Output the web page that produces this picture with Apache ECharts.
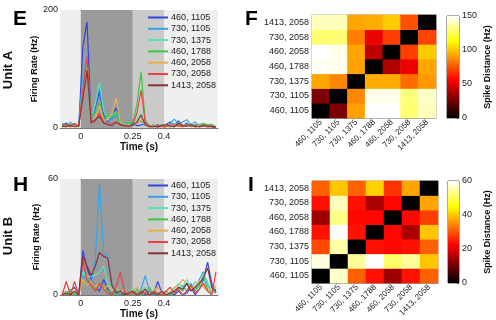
<!DOCTYPE html>
<html>
<head>
<meta charset="utf-8">
<script src="https://cdn.jsdelivr.net/npm/echarts@6/dist/echarts.min.js"></script>
<style>
  html, body { margin: 0; padding: 0; background: #fff; }
  #chart { width: 496px; height: 320px; }
</style>
</head>
<body>
<div id="chart"></div>
<script>
// stimulus pairs, in the order used for legend, rows and columns
const pairNames = ["460, 1105", "730, 1105", "730, 1375", "460, 1788", "460, 2058", "730, 2058", "1413, 2058"];
const lineColors = ["#3345dd", "#3aa3e6", "#55e3c3", "#3cc83c", "#e8b14f", "#ee4040", "#8a3434"];

// bin centres (s)
const timePoints = [-0.09, -0.07, -0.05, -0.03, -0.01, 0.01, 0.03, 0.05, 0.07, 0.09,
  0.11, 0.13, 0.15, 0.17, 0.19, 0.21, 0.23, 0.25, 0.27, 0.29,
  0.31, 0.33, 0.35, 0.37, 0.39, 0.41, 0.43, 0.45, 0.47, 0.49,
  0.51, 0.53, 0.55, 0.57, 0.59, 0.61, 0.63, 0.65];
const timeTicks = [0, 0.25, 0.4];

// Unit A firing rate (Hz)
const rateA_460_1105 = [5, 8, 3, 6, 2, 138, 180, 12, 35, 62, 22, 10, 18, 34, 10, 8, 6, 8, 4, 5, 8, 3, 5, 2, 4, 6, 10, 5, 12, 4, 8, 3, 6, 2, 4, 3, 2, 1];
const rateA_730_1105 = [8, 3, 10, 4, 3, 90, 112, 8, 40, 70, 28, 12, 15, 22, 8, 6, 5, 4, 8, 12, 5, 4, 3, 6, 2, 5, 8, 15, 6, 10, 14, 5, 10, 4, 6, 2, 5, 2];
const rateA_730_1375 = [3, 6, 2, 4, 3, 70, 113, 15, 42, 77, 30, 15, 20, 28, 10, 8, 6, 10, 15, 25, 6, 3, 2, 4, 6, 3, 5, 8, 4, 6, 3, 8, 5, 2, 6, 3, 4, 2];
const rateA_460_1788 = [2, 4, 6, 3, 2, 60, 117, 22, 25, 42, 15, 22, 18, 25, 8, 6, 8, 10, 40, 95, 12, 4, 3, 2, 5, 3, 2, 4, 6, 3, 5, 2, 4, 6, 8, 5, 6, 2];
const rateA_460_2058 = [2, 3, 2, 4, 2, 55, 104, 10, 20, 38, 12, 15, 25, 51, 10, 5, 4, 6, 8, 15, 5, 2, 4, 3, 2, 4, 3, 5, 2, 6, 4, 3, 2, 4, 3, 2, 3, 1];
const rateA_730_2058 = [4, 6, 2, 8, 3, 65, 121, 8, 12, 25, 10, 5, 8, 10, 5, 4, 3, 6, 25, 64, 10, 3, 2, 5, 3, 2, 6, 3, 4, 2, 5, 3, 4, 2, 3, 5, 2, 1];
const rateA_1413_2058 = [3, 2, 5, 2, 4, 50, 98, 10, 14, 20, 8, 6, 4, 10, 6, 4, 3, 5, 10, 22, 5, 2, 3, 2, 4, 6, 3, 2, 8, 4, 3, 6, 2, 3, 5, 2, 3, 1];

// Unit B firing rate (Hz)
const rateB_460_1105 = [1, 0, 2, 4, 0, 23, 14, 8, 4, 2, 8, 3, 0, 2, 0, 1, 0, 2, 0, 1, 0, 2, 0, 7, 1, 0, 1, 0, 2, 0, 1, 4, 0, 3, 8, 17, 6, 1];
const rateB_730_1105 = [0, 2, 0, 1, 0, 10, 8, 6, 18, 58, 22, 20, 5, 2, 0, 3, 0, 2, 1, 3, 10, 2, 0, 1, 0, 2, 0, 1, 3, 5, 2, 6, 2, 8, 12, 5, 2, 3];
const rateB_730_1375 = [0, 1, 2, 0, 1, 12, 9, 10, 10, 12, 15, 6, 3, 1, 2, 0, 1, 3, 0, 2, 4, 0, 1, 0, 2, 0, 1, 3, 6, 4, 8, 3, 7, 4, 11, 7, 2, 4];
const rateB_460_1788 = [1, 0, 3, 0, 1, 8, 6, 5, 3, 6, 4, 2, 1, 0, 2, 0, 1, 0, 3, 0, 1, 4, 0, 1, 0, 2, 0, 1, 4, 2, 6, 4, 2, 5, 9, 3, 1, 2];
const rateB_460_2058 = [2, 1, 0, 2, 1, 8, 5, 7, 4, 6, 3, 5, 2, 4, 1, 3, 0, 2, 4, 1, 3, 0, 2, 4, 1, 0, 2, 4, 5, 8, 6, 3, 5, 7, 4, 2, 3, 5];
const rateB_730_2058 = [0, 7, 0, 7, 0, 18, 8, 5, 2, 6, 3, 1, 0, 4, 12, 2, 0, 1, 0, 2, 1, 0, 2, 1, 0, 2, 4, 1, 3, 0, 2, 5, 1, 3, 6, 2, 0, 12];
const rateB_1413_2058 = [0, 1, 0, 2, 0, 20, 15, 10, 15, 22, 20, 19, 5, 1, 2, 0, 1, 2, 0, 1, 3, 0, 1, 0, 2, 0, 1, 2, 4, 3, 6, 2, 4, 6, 9, 14, 4, 2];

// spike distance matrices (Hz), rows listed bottom to top, columns left to right
const distA = [
  [0, 28, 92, 150, 150, 129, 140],
  [28, 0, 86, 147, 147, 131, 142],
  [93, 86, 0, 94, 94, 80, 90],
  [148, 147, 92, 0, 39, 52, 93],
  [150, 147, 93, 42, 0, 70, 101],
  [129, 129, 84, 52, 70, 0, 71],
  [140, 140, 93, 94, 101, 74, 0]
];
const distB = [
  [0, 57, 31, 24, 14, 24, 31],
  [58, 0, 54, 60, 51, 54, 40],
  [29, 55, 0, 24, 23, 24, 31],
  [24, 60, 24, 0, 23, 15, 40],
  [14, 53, 23, 23, 0, 23, 28],
  [24, 56, 24, 15, 23, 0, 37],
  [31, 40, 31, 41, 27, 37, 0]
];
const distTicksA = [0, 50, 100, 150];
const distTicksB = [0, 20, 40, 60];

const hotColors = ["#000000", "#550000", "#aa0000", "#ff0000", "#ff5500", "#ffaa00", "#ffff00", "#ffff80", "#ffffff"];

const ratesA = [rateA_460_1105, rateA_730_1105, rateA_730_1375, rateA_460_1788, rateA_460_2058, rateA_730_2058, rateA_1413_2058];
const ratesB = [rateB_460_1105, rateB_730_1105, rateB_730_1375, rateB_460_1788, rateB_460_2058, rateB_730_2058, rateB_1413_2058];

const font = "Liberation Sans, Arial, sans-serif";

const chart = echarts.init(document.getElementById("chart"));

const shading = {
  silent: true,
  itemStyle: { color: "#9b9b9b" },
  data: [
    [{ xAxis: 0 }, { xAxis: 0.25 }],
    [{ xAxis: 0.25, itemStyle: { color: "#cacaca" } }, { xAxis: 0.4 }]
  ]
};

const lineSeries = (rates, axisIndex) => rates.map((vals, i) => ({
  name: pairNames[i],
  type: "line",
  xAxisIndex: axisIndex,
  yAxisIndex: axisIndex,
  symbol: "none",
  animation: false,
  lineStyle: { width: 1.2, color: lineColors[i] },
  itemStyle: { color: lineColors[i] },
  data: vals.map((v, k) => [timePoints[k], v]),
  markArea: i === 0 ? shading : undefined
}));

const heatData = (m) => {
  const out = [];
  m.forEach((row, y) => row.forEach((v, x) => out.push([x, y, v])));
  return out;
};

const timeAxis = (gridIndex) => ({
  type: "value",
  gridIndex: gridIndex,
  min: -0.1,
  max: 0.66,
  splitLine: { show: false },
  axisLine: { show: true, lineStyle: { color: "#777", width: 1 } },
  axisTick: { show: true, inside: true, length: 3, customValues: timeTicks, lineStyle: { color: "#777" } },
  axisLabel: { customValues: timeTicks, fontSize: 9, color: "#222", margin: 4, fontFamily: font,
    formatter: (v) => String(v) },
  name: "Time (s)",
  nameLocation: "middle",
  nameGap: 14,
  nameTextStyle: { fontSize: 10, fontWeight: "bold", color: "#111", fontFamily: font }
});

const rateAxis = (gridIndex, max) => ({
  type: "value",
  gridIndex: gridIndex,
  min: 0,
  max: max,
  interval: max,
  splitLine: { show: false },
  axisLine: { show: true, lineStyle: { color: "#777", width: 1 } },
  axisTick: { show: true, inside: true, length: 3, lineStyle: { color: "#777" } },
  axisLabel: { fontSize: 9, color: "#222", margin: 2, fontFamily: font },
  name: "Firing Rate (Hz)",
  nameLocation: "middle",
  nameGap: 19,
  nameTextStyle: { fontSize: 9, fontWeight: "bold", color: "#111", fontFamily: font }
});

const catAxisX = (gridIndex) => ({
  type: "category",
  gridIndex: gridIndex,
  data: pairNames,
  axisLine: { show: true, lineStyle: { color: "#999" } },
  axisTick: { show: false },
  axisLabel: { rotate: 45, interval: 0, fontSize: 8, color: "#222", margin: 3, fontFamily: font },
  splitLine: { show: false }
});

const catAxisY = (gridIndex) => ({
  type: "category",
  gridIndex: gridIndex,
  data: pairNames,
  axisLine: { show: true, lineStyle: { color: "#999" } },
  axisTick: { show: false },
  axisLabel: { interval: 0, fontSize: 9, color: "#222", margin: 3, fontFamily: font },
  splitLine: { show: false }
});

const barAxisX = (gridIndex) => ({
  type: "category",
  gridIndex: gridIndex,
  data: [""],
  show: false
});

const barAxisY = (gridIndex, ticks) => ({
  type: "value",
  gridIndex: gridIndex,
  position: "right",
  min: ticks[0],
  max: ticks[ticks.length - 1],
  interval: ticks[1] - ticks[0],
  splitLine: { show: false },
  axisLine: { show: false },
  axisTick: { show: true, inside: true, length: 2, lineStyle: { color: "#555" } },
  axisLabel: { fontSize: 9, color: "#222", margin: 3, fontFamily: font },
  name: "Spike Distance (Hz)",
  nameLocation: "middle",
  nameRotate: 90,
  nameGap: 24,
  nameTextStyle: { fontSize: 9, fontWeight: "bold", color: "#111", fontFamily: font }
});

const gradient = new echarts.graphic.LinearGradient(0, 1, 0, 0,
  hotColors.map((c, i) => ({ offset: i / (hotColors.length - 1), color: c })));

const legendAt = (top) => ({
  orient: "vertical",
  left: 147,
  top: top,
  itemWidth: 20,
  itemHeight: 8,
  itemGap: 2.3,
  padding: 0,
  selectedMode: false,
  itemStyle: { color: "rgba(0,0,0,0)", borderWidth: 0 },
  lineStyle: { width: 2 },
  textStyle: { fontSize: 9, color: "#222", fontFamily: font, padding: [0, 0, 0, -2] },
  data: pairNames
});

const panelLetter = (text, x, y) => ({
  type: "text", left: x, top: y,
  style: { text: text, font: "bold 21px " + font, fill: "#000" }
});

const unitLabel = (text, cy) => ({
  type: "text", x: 2, y: cy, rotation: Math.PI / 2,
  style: { text: text, font: "bold 13px " + font, fill: "#111", align: "center", verticalAlign: "top" }
});

const option = {
  animation: false,
  backgroundColor: "#fff",
  grid: [
    { left: 60, top: 10, width: 158, height: 118, show: true, backgroundColor: "#efefef", borderWidth: 0 },
    { left: 60, top: 179, width: 158, height: 117, show: true, backgroundColor: "#efefef", borderWidth: 0 },
    { left: 312, top: 15, width: 124, height: 103, show: true, borderColor: "#999", borderWidth: 1 },
    { left: 312, top: 181, width: 126, height: 102, show: true, borderColor: "#999", borderWidth: 1 },
    { left: 447, top: 16, width: 12, height: 102, show: true, borderColor: "#555", borderWidth: 1 },
    { left: 448, top: 181, width: 11, height: 102, show: true, borderColor: "#555", borderWidth: 1 }
  ],
  xAxis: [timeAxis(0), timeAxis(1), catAxisX(2), catAxisX(3), barAxisX(4), barAxisX(5)],
  yAxis: [rateAxis(0, 200), rateAxis(1, 60), catAxisY(2), catAxisY(3), barAxisY(4, distTicksA), barAxisY(5, distTicksB)],
  legend: [legendAt(13), legendAt(181)],
  visualMap: [
    { type: "continuous", show: false, seriesIndex: 14, min: 0, max: 150, inRange: { color: hotColors } },
    { type: "continuous", show: false, seriesIndex: 15, min: 0, max: 60, inRange: { color: hotColors } }
  ],
  series: [
    ...lineSeries(ratesA, 0),
    ...lineSeries(ratesB, 1),
    { type: "heatmap", xAxisIndex: 2, yAxisIndex: 2, data: heatData(distA), animation: false },
    { type: "heatmap", xAxisIndex: 3, yAxisIndex: 3, data: heatData(distB), animation: false },
    { type: "bar", xAxisIndex: 4, yAxisIndex: 4, barWidth: "100%", data: [distTicksA[3]],
      itemStyle: { color: gradient }, silent: true, animation: false },
    { type: "bar", xAxisIndex: 5, yAxisIndex: 5, barWidth: "100%", data: [distTicksB[3]],
      itemStyle: { color: gradient }, silent: true, animation: false }
  ],
  graphic: [
    panelLetter("E", 13, 9),
    panelLetter("F", 245, 9),
    panelLetter("H", 13, 175),
    panelLetter("I", 248, 175),
    unitLabel("Unit A", 70),
    unitLabel("Unit B", 236)
  ]
};

chart.setOption(option);
</script>
</body>
</html>
